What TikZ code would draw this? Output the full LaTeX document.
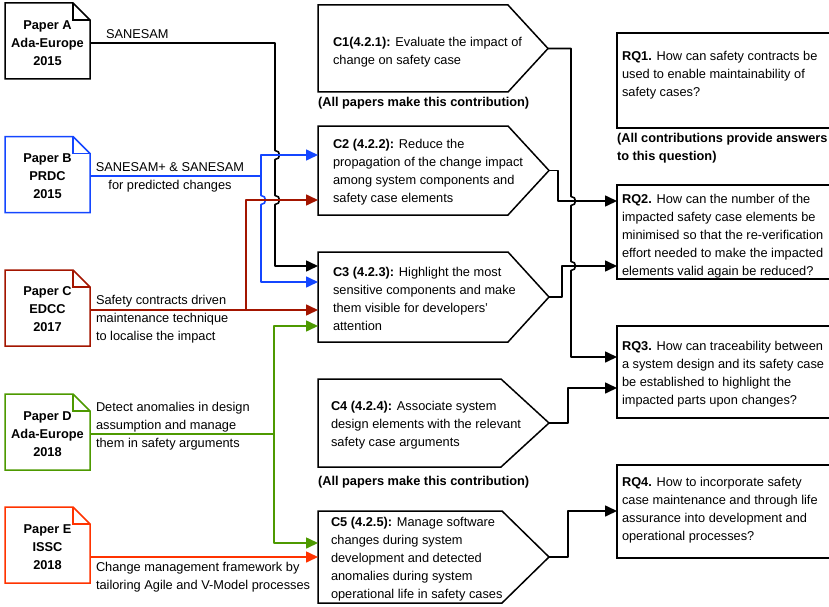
\documentclass[tikz,border=0pt]{standalone}
\usepackage{fontspec}
\setmainfont{Liberation Sans}
\usetikzlibrary{arrows.meta}

\definecolor{pblue}{RGB}{20,70,255}
\definecolor{pred}{RGB}{163,21,0}
\definecolor{pgreen}{RGB}{77,153,0}
\definecolor{porange}{RGB}{255,51,0}

\newcommand\dfont{\fontsize{12.8pt}{18pt}\selectfont}

% outline of a paper (note with folded top-right corner)
\newcommand\noteoutline[2]{%
  \draw[outline,#2] (#1.south west) -- (#1.north west) -- ([xshift=-17pt]#1.north east)
    -- ([yshift=-17pt]#1.north east) -- (#1.south east) -- cycle;
  \draw[outline,#2] ([xshift=-17pt]#1.north east) -- ([xshift=-17pt,yshift=-17pt]#1.north east)
    -- ([yshift=-17pt]#1.north east);}

% outline of a contribution (pentagon pointing right); defines <name>tip
\newcommand\pentoutline[2]{%
  \draw[outline] (#1.north west) -- (#1.north east) -- ([xshift=#2]#1.east)
    -- (#1.south east) -- (#1.south west) -- cycle;
  \coordinate (#1tip) at ([xshift=#2]#1.east);}

\begin{document}
\begin{tikzpicture}[x=1pt,y=-1pt,
  every node/.style={font=\dfont, inner sep=0pt, outer sep=0pt},
  outline/.style={line width=1.5pt, line join=miter},
  paper/.style={minimum width=85pt, minimum height=76pt},
  ptext/.style={align=center, font=\dfont\bfseries},
  rqbox/.style={draw, outline, minimum width=213pt},
  conn/.style={line width=1.6pt, line join=round},
  arr/.style={-{Triangle[length=12pt,width=11pt]}},
  vjump/.style 2 args={insert path={-- (#1,#2-4.5) .. controls (#1+6,#2-4.5) and (#1+6,#2+4.5) .. (#1,#2+4.5)}}
]
\useasboundingbox (0,0) rectangle (829,607);

% ---------- papers ----------
\node[paper] (pA) at (47.5,41) {};
\noteoutline{pA}{black}
\node[ptext] (pAt) at (47.5,43.5) {Paper A\\Ada-Europe\\2015};

\node[paper] (pB) at (47.5,174.5) {};
\noteoutline{pB}{pblue}
\node[ptext] (pBt) at (47.5,176.5) {Paper B\\PRDC\\2015};

\node[paper] (pC) at (47.5,308) {};
\noteoutline{pC}{pred}
\node[ptext] (pCt) at (47.5,309.5) {Paper C\\EDCC\\2017};

\node[paper] (pD) at (47.5,432) {};
\noteoutline{pD}{pgreen}
\node[ptext] (pDt) at (47.5,434.5) {Paper D\\Ada-Europe\\2018};

\node[paper] (pE) at (47.5,545) {};
\noteoutline{pE}{porange}
\node[ptext] (pEt) at (47.5,547.5) {Paper E\\ISSC\\2018};

% ---------- contributions ----------
\node[minimum width=190pt, minimum height=87pt] (C1) at (413,48.5) {};
\pentoutline{C1}{40pt}
\node[anchor=west, align=left] (C1t) at (333,52) {\textbf{C1(4.2.1):} Evaluate the impact of\\change on safety case};
\node[anchor=west, font=\dfont\bfseries] (n1) at (318,103) {(All papers make this contribution)};

\node[minimum width=190pt, minimum height=89pt] (C2) at (413,170.5) {};
\pentoutline{C2}{41pt}
\node[anchor=west, align=left] (C2t) at (333,172.5) {\textbf{C2 (4.2.2):} Reduce the\\propagation of the change impact\\among system components and\\safety case elements};

\node[minimum width=190pt, minimum height=90pt] (C3) at (413,297) {};
\pentoutline{C3}{41pt}
\node[anchor=west, align=left] (C3t) at (333,298.5) {\textbf{C3 (4.2.3):} Highlight the most\\sensitive components and make\\them visible for developers'\\attention};

\node[minimum width=183pt, minimum height=88pt] (C4) at (409.5,423) {};
\pentoutline{C4}{48pt}
\node[anchor=west, align=left] (C4t) at (331,425.5) {\textbf{C4 (4.2.4):} Associate system\\design elements with the relevant\\safety case arguments};
\node[anchor=west, font=\dfont\bfseries] (n4) at (318,482) {(All papers make this contribution)};

\node[minimum width=184pt, minimum height=92pt] (C5) at (410,557) {};
\pentoutline{C5}{47pt}
\node[anchor=west, align=left] (C5t) at (331,559) {\textbf{C5 (4.2.5):} Manage software\\changes during system\\development and detected\\anomalies during system\\operational life in safety cases};

% ---------- research questions ----------
\node[rqbox, minimum height=95pt] (RQ1) at (723.5,80.5) {};
\node[anchor=west, align=left] (RQ1t) at (622,75) {\textbf{RQ1.} How can safety contracts be\\used to enable maintainability of\\safety cases?};
\node[anchor=west, align=left, font=\dfont\bfseries] (nq) at (617,148.5) {(All contributions provide answers\\to this question)};

\node[rqbox, minimum height=94pt] (RQ2) at (723.5,232) {};
\node[anchor=west, align=left] (RQ2t) at (622,236.5) {\textbf{RQ2.} How can the number of the\\impacted safety case elements be\\minimised so that the re-verification\\effort needed to make the impacted\\elements valid again be reduced?};

\node[rqbox, minimum height=92pt] (RQ3) at (723.5,372) {};
\node[anchor=west, align=left] (RQ3t) at (622,374.5) {\textbf{RQ3.} How can traceability between\\a system design and its safety case\\be established to highlight the\\impacted parts upon changes?};

\node[rqbox, minimum height=93pt] (RQ4) at (723.5,511.5) {};
\node[anchor=west, align=left] (RQ4t) at (622,510) {\textbf{RQ4.} How to incorporate safety\\case maintenance and through life\\assurance into development and\\operational processes?};

% ---------- edge labels ----------
\node[anchor=west] (lA) at (106,34) {SANESAM};
\node[align=center] (lB) at (170,177) {SANESAM+ \& SANESAM\\for predicted changes};
\node[anchor=west, align=left] (lC) at (96,319) {Safety contracts driven\\maintenance technique\\to localise the impact};
\node[anchor=west, align=left] (lD) at (96,426.5) {Detect anomalies in design\\assumption and manage\\them in safety arguments};
\node[anchor=west, align=left] (lE) at (96,577.5) {Change management framework by\\tailoring Agile and V-Model processes};

% ---------- papers to contributions ----------
% Paper A
\coordinate (a0) at ([yshift=-2pt]pA.east);
\coordinate (a1) at (275,43);
\coordinate (a2) at (275,266);
\draw[conn,arr] (a0) -- (a1) [vjump={275}{155}] [vjump={275}{200}] -- (a2) -- (a2 -| C3.west);

% Paper B
\coordinate (b0) at ([yshift=-1.5pt]pB.east);
\coordinate (b1) at (261,176);
\coordinate (b2) at (261,155);
\coordinate (b3) at (261,282);
\draw[conn,pblue] (b0) -- (b1);
\draw[conn,pblue,arr] (b1) -- (b2) -- (b2 -| C2.west);
\draw[conn,pblue,arr] (b1) [vjump={261}{200}] -- (b3) -- (b3 -| C3.west);

% Paper C
\coordinate (c0) at ([yshift=-2pt]pC.east);
\coordinate (c1) at (246,310);
\coordinate (c2) at (246,200);
\draw[conn,pred,arr] (c0) -- (c0 -| C3.west);
\draw[conn,pred,arr] (c1) -- (c2) -- (c2 -| C2.west);

% Paper D
\coordinate (d0) at ([yshift=-2pt]pD.east);
\coordinate (d1) at (274,434);
\coordinate (d2) at (274,326);
\coordinate (d3) at (274,543);
\draw[conn,pgreen] (d0) -- (d1);
\draw[conn,pgreen,arr] (d1) -- (d2) -- (d2 -| C3.west);
\draw[conn,pgreen,arr] (d1) -- (d3) -- (d3 -| C5.west);

% Paper E
\coordinate (e0) at ([yshift=-12pt]pE.east);
\draw[conn,porange,arr] (e0) -- (e0 -| C5.west);

% ---------- contributions to research questions ----------
\coordinate (r1) at (571,357);
\draw[conn,arr] (C1tip) -- (C1tip -| r1) [vjump={571}{201}] [vjump={571}{266}] -- (r1) -- (r1 -| RQ3.west);

\coordinate (r2) at (558,201);
\draw[conn,arr] (C2tip) -- (C2tip -| r2) -- (r2) -- (r2 -| RQ2.west);

\coordinate (r3) at (562,266);
\draw[conn,arr] (C3tip) -- (C3tip -| r3) -- (r3) -- (r3 -| RQ2.west);

\coordinate (r4) at (568,388);
\draw[conn,arr] (C4tip) -- (C4tip -| r4) -- (r4) -- (r4 -| RQ3.west);

\coordinate (r5) at (568,511);
\draw[conn,arr] (C5tip) -- (C5tip -| r5) -- (r5) -- (r5 -| RQ4.west);
\end{tikzpicture}
\end{document}
